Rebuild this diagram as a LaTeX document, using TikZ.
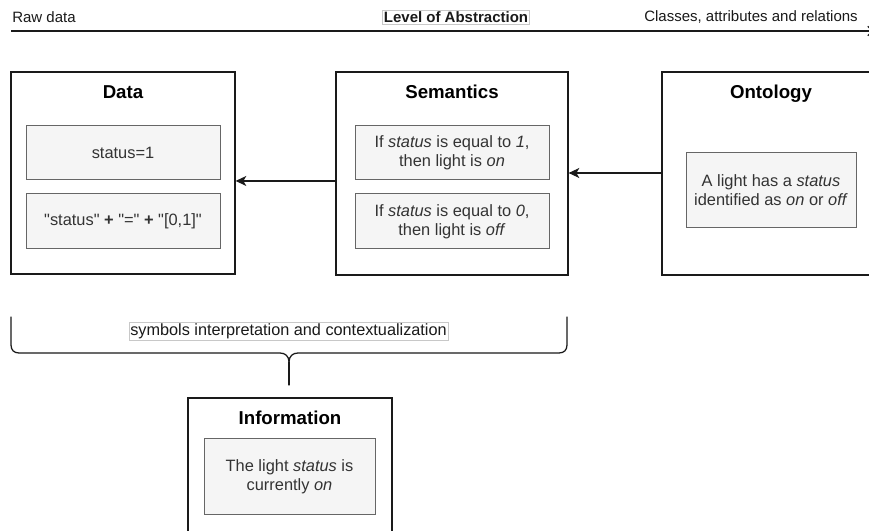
\documentclass[tikz,border=0pt]{standalone}
\usepackage{fontspec}
\setmainfont{Liberation Sans}[Ligatures=TeXOff]
\usetikzlibrary{arrows.meta}
\definecolor{innerfill}{HTML}{F5F5F5}
\definecolor{innerdraw}{HTML}{666666}
\definecolor{innertext}{HTML}{333333}
\definecolor{lblborder}{HTML}{C8C8C8}
\definecolor{ink}{HTML}{1A1A1A}
\begin{document}
\begin{tikzpicture}[x=0.75pt,y=-0.75pt,
  outer/.style={draw=ink, line width=0.95pt, fill=white, inner sep=0pt},
  inner/.style={draw=innerdraw, fill=innerfill, text=innertext, line width=0.75pt,
    align=center, inner sep=0pt, font=\fontsize{12.3}{14.2}\selectfont},
  title/.style={inner sep=0pt, anchor=base, text=black, font=\bfseries\fontsize{14}{17}\selectfont},
  plain/.style={inner sep=0pt, text=ink, font=\fontsize{11.25}{13.5}\selectfont},
  lbl/.style={draw=lblborder, line width=0.5pt, fill=white, inner sep=0.9pt, text=ink,
    font=\fontsize{11.25}{13.5}\selectfont},
  arr/.style={draw=ink, line width=0.95pt, -{Stealth[length=8pt,width=7.5pt,inset=2.2pt]}},
  bracepath/.style={draw=ink, line width=0.95pt, line cap=round, line join=round}
]
\clip (0,0) rectangle (869,531);
\fill[white] (0,0) rectangle (869,531);

% top axis
\coordinate (axL) at (11,31);
\coordinate (axR) at (874,31);
\draw[draw=ink, line width=0.95pt, -{Straight Barb[length=4pt,width=7pt]}] (axL) -- (axR);
\node[plain, anchor=west] (raw) at (12,17.5) {Raw data};
\node[lbl, font=\bfseries\fontsize{11.25}{13.5}\selectfont] (loa) at (456,17.5) {Level of Abstraction};
\node[plain, anchor=east] (car) at (858,17.5) {Classes, attributes and relations};

% Data
\node[outer, minimum width=168pt, minimum height=151.5pt] (data) at (123,173) {};
\node[title] (datat) at (123,98.5) {Data};
\node[inner, minimum width=145.5pt, minimum height=40.5pt] (d1) at (123,153) {status=1};
\node[inner, minimum width=145.5pt, minimum height=41.25pt] (d2) at (123,221.5) {"status" \textbf{+} "=" \textbf{+} "[0,1]"};

% Semantics
\node[outer, minimum width=174pt, minimum height=152.25pt] (sem) at (452,173.5) {};
\node[title] (semt) at (452,98.5) {Semantics};
\node[inner, minimum width=145.5pt, minimum height=40.5pt] (s1) at (452,153) {If \textit{status} is equal to \textit{1},\\then light is \textit{on}};
\node[inner, minimum width=145.5pt, minimum height=41.25pt] (s2) at (452,221.5) {If \textit{status} is equal to \textit{0},\\then light is \textit{off}};

% Ontology
\node[outer, minimum width=163.5pt, minimum height=152.25pt] (ont) at (771,173.5) {};
\node[title] (ontt) at (771,98.5) {Ontology};
\node[inner, minimum width=127.5pt, minimum height=56.25pt] (o1) at (771,190.5) {A light has a \textit{status}\\identified as \textit{on} or \textit{off}};

% arrows
\draw[arr] ([yshift=-5.6pt]sem.west) -- ([yshift=-5.6pt]sem.west -| data.east);
\draw[arr] ([yshift=0.375pt]ont.west) -- ([yshift=0.375pt]ont.west -| sem.east);

% brace
\draw[bracepath] (11,317) -- (11,345) .. controls (11,350) and (14,353) .. (19,353)
  -- (280,353) .. controls (285,353) and (289,356) .. (289,362)
  .. controls (289,356) and (293,353) .. (298,353)
  -- (559,353) .. controls (564,353) and (567,350) .. (567,345) -- (567,317);
\coordinate (stemtop) at (289,362);
\coordinate (stembot) at (289,385);
\draw[bracepath] (stemtop) -- (stembot);
\node[lbl, font=\fontsize{12.2}{14}\selectfont] (blbl) at (288.5,331.5) {symbols interpretation and contextualization};

% Information
\node[outer, minimum width=153pt, minimum height=121.5pt] (info) at (290,479) {};
\node[title] (infot) at (290,424.5) {Information};
\node[inner, minimum width=128.25pt, minimum height=56.25pt] (i1) at (289.5,476.5) {The light \textit{status} is\\currently \textit{on}};
\end{tikzpicture}
\end{document}
